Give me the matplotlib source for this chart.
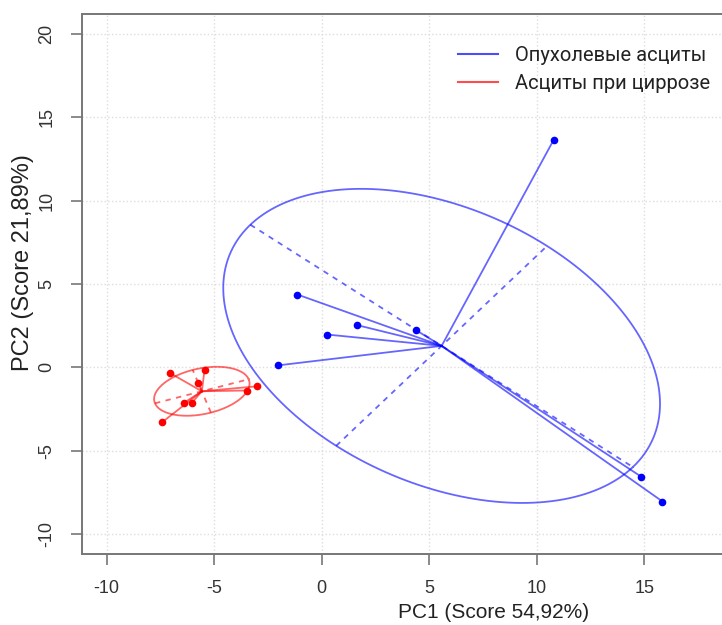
import numpy as np
from matplotlib import pyplot as plt
from matplotlib.lines import Line2D

# PCA scores
tumor_pc1 = [10.8, -1.13, 0.24, 1.66, 4.39, -2.01, 14.85, 15.85]
tumor_pc2 = [13.67, 4.37, 1.97, 2.53, 2.23, 0.12, -6.55, -8.05]
cirrh_pc1 = [-7.05, -5.44, -5.73, -3.02, -3.46, -6.40, -6.03, -7.42]
cirrh_pc2 = [-0.34, -0.14, -0.92, -1.14, -1.39, -2.13, -2.13, -3.30]

group_names = ["Опухолевые асциты", "Асциты при циррозе"]
x_ticks = [-10, -5, 0, 5, 10, 15]
y_ticks = [-10, -5, 0, 5, 10, 15, 20]

W, H = 722, 625

plt.rcParams['axes.unicode_minus'] = False


def draw_group(ax, xs, ys, color, cellipse=1.5):
    xs = np.asarray(xs)
    ys = np.asarray(ys)
    mx, my = xs.mean(), ys.mean()
    vx = ((xs - mx) ** 2).mean()
    vy = ((ys - my) ** 2).mean()
    cxy = ((xs - mx) * (ys - my)).mean()

    # star: centre to every point
    for x, y in zip(xs, ys):
        ax.plot([mx, x], [my, y], color=color, alpha=0.6, lw=1.3, zorder=3)

    # covariance ellipse (ade4 style)
    delta = np.sqrt((vx - vy) ** 2 + 4 * cxy ** 2)
    l1 = (vx + vy + delta) / 2
    l2 = vx + vy - l1
    l1, l2 = np.sqrt(max(l1, 0)), np.sqrt(max(l2, 0))
    a0, b0 = 1.0, (l1 * l1 - vx) / cxy
    norm = np.hypot(a0, b0)
    a0, b0 = a0 / norm, b0 / norm
    c11 = cellipse * a0 * l1
    c12 = -cellipse * b0 * l2
    c21 = cellipse * b0 * l1
    c22 = cellipse * a0 * l2
    t = np.linspace(0, 2 * np.pi, 200)
    ax.plot(mx + c11 * np.cos(t) + c12 * np.sin(t),
            my + c21 * np.cos(t) + c22 * np.sin(t),
            color=color, alpha=0.6, lw=1.3, zorder=3)
    ax.plot([mx - c11, mx + c11], [my - c21, my + c21], color=color, alpha=0.6,
            lw=1.3, linestyle=(0, (3, 3)), zorder=3)
    ax.plot([mx - c12, mx + c12], [my - c22, my + c22], color=color, alpha=0.6,
            lw=1.3, linestyle=(0, (3, 3)), zorder=3)

    ax.plot(xs, ys, 'o', color=color, markersize=5.5, markeredgewidth=0, zorder=4)


fig = plt.figure(figsize=(W / 100, H / 100), dpi=100)
ax = fig.add_axes([82 / W, (H - 554) / H, (744 - 82) / W, (554 - 14) / H])
ax.set_xlim(-11.14, 19.64)
ax.set_ylim(-11.2, 21.2)

ax.set_xticks(x_ticks)
ax.set_yticks(y_ticks)
ax.grid(True, linestyle=':', color='#dddddd', lw=1.0)
ax.set_axisbelow(True)

for s in ax.spines.values():
    s.set_color('#777777')
    s.set_linewidth(1.4)

for lab in ax.get_xticklabels() + ax.get_yticklabels():
    lab.set_family('Liberation Sans')
ax.tick_params(direction='out', length=8, width=1.2, color='#777777',
               labelsize=13, labelcolor='#333333', pad=11)
plt.setp(ax.get_yticklabels(), rotation=90, va='center')

draw_group(ax, tumor_pc1, tumor_pc2, 'blue')
draw_group(ax, cirrh_pc1, cirrh_pc2, 'red')

fig.text(494 / W, 1 - 613 / H, "PC1 (Score 54,92%)", ha='center', va='center',
         fontsize=15, family='Liberation Sans', color='#222222')
fig.text(23 / W, 1 - 263 / H, "PC2 (Score 21,89%)", ha='center', va='center',
         rotation=90, fontsize=17, family='Liberation Sans', color='#222222')

handles = [Line2D([], [], color='blue', alpha=0.7, lw=1.5),
           Line2D([], [], color='red', alpha=0.7, lw=1.5)]
fig.legend(handles, group_names, loc='upper left',
           bbox_to_anchor=(458 / W, 1 - 46 / H), frameon=False,
           prop={'family': ['Roboto', 'DejaVu Sans'], 'size': 14.5},
           handlelength=2.0, handletextpad=0.85, labelspacing=0.45,
           borderpad=0, borderaxespad=0, labelcolor='#222222')

fig.savefig('out.png', dpi=100)
